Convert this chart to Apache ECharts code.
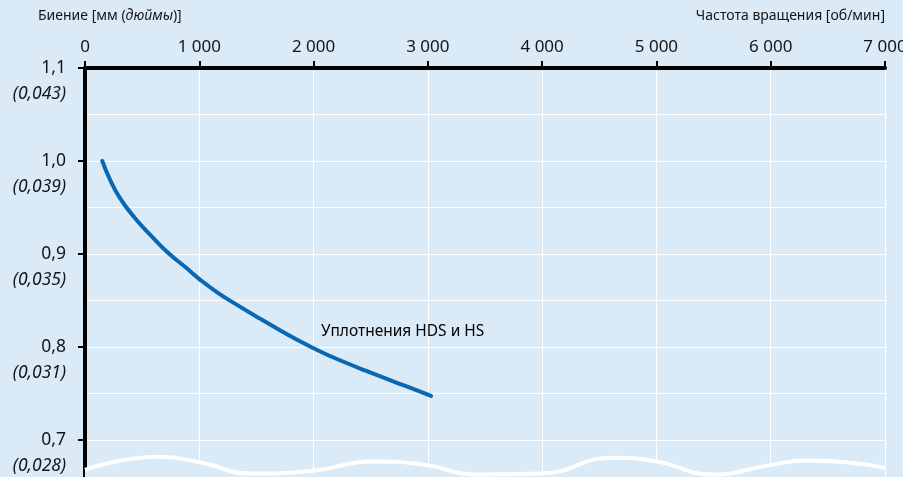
<!DOCTYPE html>
<html>
<head>
<meta charset="utf-8">
<script src="https://cdn.jsdelivr.net/npm/echarts@6/dist/echarts.min.js"></script>
<style>
  html, body { margin: 0; padding: 0; background: #daeaf7; }
  #chart { width: 903px; height: 477px; }
</style>
</head>
<body>
<div id="chart"></div>
<script>
// run-out curve, rpm vs mm
let speedRpm = [151, 219, 306, 438, 584, 729, 875, 1006, 1166, 1341, 1531, 1721, 1866, 2013, 2159, 2304, 2450, 2596, 2741, 2888, 3028];
let runoutMm = [1.0000, 0.9800, 0.9600, 0.9385, 0.9190, 0.9010, 0.8862, 0.8725, 0.8580, 0.8445, 0.8305, 0.8170, 0.8072, 0.7978, 0.7895, 0.7820, 0.7748, 0.7678, 0.7610, 0.7542, 0.7475];

// axis break wave along the bottom
let waveRpm = [0, 641, 1006, 1444, 1995, 2520, 2993, 3395, 3996, 4620, 5002, 5495, 5994, 6315, 6665, 7000];
let waveMm = [0.668, 0.682, 0.676, 0.664, 0.667, 0.677, 0.673, 0.663, 0.664, 0.681, 0.677, 0.663, 0.673, 0.678, 0.676, 0.670];

let yTicks = [0.7, 0.8, 0.9, 1.0, 1.1];
let yInchLabels = ['(0,028)', '(0,031)', '(0,035)', '(0,039)', '(0,043)'];

let seriesName = 'Уплотнения HDS и HS';
let seriesLabelAt = [2065, 0.817];

let font = 'Noto Sans';
let bg = '#daeaf7';
let ink = '#151515';

let chart = echarts.init(document.getElementById('chart'));

let waveFillData = [[-80, waveMm[0]]].concat(waveRpm.map((x, i) => [x, waveMm[i]]));

chart.setOption({
    backgroundColor: bg,
    animation: false,
    textStyle: { fontFamily: font },
    title: [{
        text: '{n|Биение [мм (}{i|дюймы}{n|)]}',
        left: 38, top: 9, padding: 0,
        textStyle: {
            fontWeight: 'normal',
            rich: {
                n: { fontFamily: font, fontSize: 14, fontWeight: 'normal', color: ink },
                i: { fontFamily: font, fontSize: 14, fontWeight: 'normal', color: ink, fontStyle: 'italic' }
            }
        }
    }, {
        text: 'Частота вращения [об/мин]',
        right: 18, top: 9, padding: 0,
        textStyle: { fontFamily: font, fontSize: 14, fontWeight: 'normal', color: ink }
    }],
    grid: { left: 85, top: 68, width: 800, height: 465, outerBoundsMode: 'none', containLabel: false },
    xAxis: {
        type: 'value',
        position: 'top',
        min: 0, max: 7000, interval: 1000,
        axisLine: { show: true, onZero: false, lineStyle: { color: '#000', width: 4 } },
        axisTick: { show: true, length: 7, lineStyle: { color: '#000', width: 2 } },
        axisLabel: {
            margin: 12,
            fontSize: 17,
            color: ink,
            fontFamily: font,
            formatter: v => v >= 1000 ? Math.floor(v / 1000) + ' 000' : String(v)
        },
        splitLine: { show: true, lineStyle: { color: '#fff', width: 1 } }
    },
    yAxis: {
        type: 'value',
        min: 0.6, max: 1.1, interval: 0.1,
        axisLine: { show: true, onZero: false, lineStyle: { color: '#000', width: 4 } },
        axisTick: { show: true, length: 7, lineStyle: { color: '#000', width: 2 } },
        axisLabel: {
            margin: 19,
            color: ink,
            align: 'right',
            formatter: v => {
                let i = yTicks.findIndex(t => Math.abs(t - v) < 1e-6);
                if (i < 0) return '';
                return '{e| }\n{a|' + yTicks[i].toFixed(1).replace('.', ',') + '}\n{b|' + yInchLabels[i] + '}';
            },
            rich: {
                e: { fontSize: 17, lineHeight: 26, fontFamily: font },
                a: { fontSize: 17.5, lineHeight: 26, fontFamily: font, color: ink },
                b: { fontSize: 17.5, lineHeight: 26, fontFamily: font, color: ink, fontStyle: 'italic' }
            }
        },
        splitLine: { show: true, lineStyle: { color: '#fff', width: 1 } },
        minorTick: { show: false, splitNumber: 2 },
        minorSplitLine: { show: true, lineStyle: { color: '#fff', width: 1 } }
    },
    series: [{
        type: 'line',
        data: speedRpm.map((x, i) => [x, runoutMm[i]]),
        smooth: 0.5,
        showSymbol: false,
        lineStyle: { color: '#0a67b2', width: 4, cap: 'round' },
        z: 3
    }, {
        type: 'scatter',
        data: [seriesLabelAt],
        symbolSize: 0,
        silent: true,
        itemStyle: { opacity: 1 },
        label: {
            show: true,
            position: 'right',
            distance: 0,
            formatter: seriesName,
            fontFamily: font,
            fontSize: 15.5,
            fontWeight: 'normal',
            color: '#000',
            opacity: 1
        },
        z: 3
    }, {
        type: 'line',
        data: waveFillData,
        smooth: 0.5,
        clip: false,
        showSymbol: false,
        lineStyle: { width: 0 },
        areaStyle: { color: bg, opacity: 1, origin: 'start' },
        z: 4
    }, {
        type: 'line',
        data: waveRpm.map((x, i) => [x, waveMm[i]]),
        smooth: 0.5,
        showSymbol: false,
        lineStyle: { color: '#fff', width: 4 },
        z: 5
    }]
});
</script>
</body>
</html>
